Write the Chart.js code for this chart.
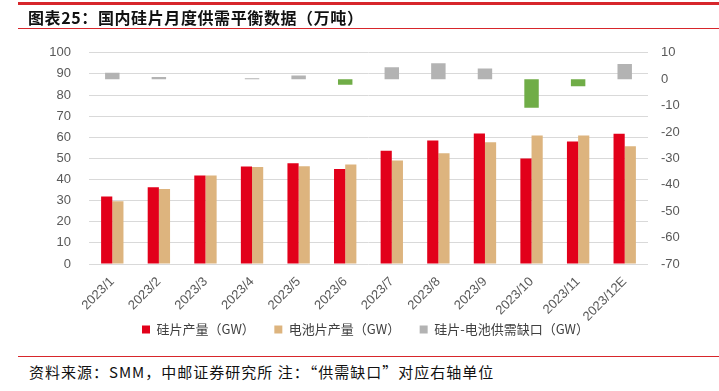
<!DOCTYPE html>
<html>
<head>
<meta charset="utf-8">
<script src="https://cdn.jsdelivr.net/npm/chart.js@4.4.1/dist/chart.umd.min.js"></script>
<style>
  body { margin: 0; background: #fff; }
  #page { position: relative; width: 719px; height: 391px; overflow: hidden; font-family: "Noto Sans CJK SC", sans-serif; }
  .rule { position: absolute; left: 18px; right: 0; background: #D7262B; z-index: 2; }
  #title { position: absolute; left: 28px; top: 5px; font-size: 16px; font-weight: bold; color: #111; line-height: 24px; white-space: nowrap; letter-spacing: 0.6px; z-index: 2; }
  #note { position: absolute; left: 29px; top: 361px; font-size: 15px; color: #111; line-height: 22px; white-space: nowrap; letter-spacing: 1px; z-index: 2; background: #fff; }
  #wrap { position: absolute; left: 0; top: 27px; width: 719px; height: 319px; }
</style>
</head>
<body>
<div id="page">
  <div class="rule" style="top:2px;height:3px"></div>
  <div id="title">图表25：国内硅片月度供需平衡数据（万吨）</div>
  <div class="rule" style="top:28px;height:1px"></div>
  <div id="wrap"><canvas id="chart"></canvas></div>
  <div class="rule" style="top:356px;height:1px"></div>
  <div id="note">资料来源：SMM，中邮证券研究所 注：“供需缺口”对应右轴单位</div>
</div>
<script>
// monthly figures
const months = ['2023/1', '2023/2', '2023/3', '2023/4', '2023/5', '2023/6',
  '2023/7', '2023/8', '2023/9', '2023/10', '2023/11', '2023/12E'];
const waferOutput = [32.0, 36.3, 41.9, 46.2, 47.7, 45.0, 53.6, 58.5, 61.8, 49.9, 58.0, 61.7];
const cellOutput = [29.7, 35.5, 41.9, 45.9, 46.3, 47.1, 49.0, 52.4, 57.7, 60.8, 60.8, 55.8];
const supplyGap = [2.4, 0.8, 0, 0.4, 1.4, -2.1, 4.5, 6.0, 4.1, -10.8, -2.7, 5.8];

const leftTicks = { min: 0, max: 100, step: 10 };
const rightTicks = { min: -70, max: 10, step: 10 };

const RED = '#E2001A';
const TAN = '#DDB47E';
const GREY = '#B3B3B3';
const GREEN = '#70AD47';
const tickFont = { family: '"Liberation Sans", Arial, sans-serif', size: 13 };

new Chart(document.getElementById('chart'), {
  type: 'bar',
  data: {
    labels: months,
    datasets: [
      {
        label: '硅片产量（GW）',
        data: waferOutput,
        backgroundColor: RED,
        categoryPercentage: 0.48,
        barPercentage: 1.0,
        yAxisID: 'y',
        order: 2,
      },
      {
        label: '电池片产量（GW）',
        data: cellOutput,
        backgroundColor: TAN,
        categoryPercentage: 0.48,
        barPercentage: 1.0,
        yAxisID: 'y',
        order: 2,
      },
      {
        // gap bars sit centred on the month, not in the group
        label: '硅片-电池供需缺口（GW）',
        data: supplyGap,
        backgroundColor: supplyGap.map(v => (v < 0 ? GREEN : GREY)),
        grouped: false,
        categoryPercentage: 0.31,
        barPercentage: 1.0,
        yAxisID: 'y2',
        order: 1,
      },
    ],
  },
  options: {
    responsive: true,
    maintainAspectRatio: false,
    animation: false,
    layout: { padding: { top: 0, left: 12, right: 0, bottom: 0 } },
    plugins: {
      tooltip: { enabled: false },
      legend: {
        position: 'bottom',
        labels: {
          color: '#404040',
          boxWidth: 8,
          boxHeight: 8,
          padding: 0,
          font: { family: '"Noto Sans CJK SC", sans-serif', size: 13 },
          // trailing ideographic spaces give the gap between items
          generateLabels: chart => chart.data.datasets.map((ds, i) => ({
            text: i < 2 ? ds.label + '\u3000\u3000' : ds.label,
            fillStyle: [RED, TAN, GREY][i],
            strokeStyle: 'rgba(0,0,0,0)',
            lineWidth: 0,
            fontColor: '#404040',
            datasetIndex: i,
          })),
        },
      },
    },
    scales: {
      x: {
        offset: true,
        grid: { display: false, drawTicks: false },
        border: { display: false },
        ticks: { color: '#595959', font: tickFont, minRotation: 45, maxRotation: 45, padding: 10 },
        afterFit: s => { s.height = 59; },
      },
      y: {
        position: 'left',
        min: leftTicks.min,
        max: leftTicks.max,
        ticks: { stepSize: leftTicks.step, autoSkip: false, color: '#595959', font: tickFont, padding: 18 },
        grid: { color: '#D9D9D9', drawTicks: false },
        border: { display: false },
        afterFit: s => { s.width = 77; },
      },
      y2: {
        position: 'right',
        min: rightTicks.min,
        max: rightTicks.max,
        ticks: { stepSize: rightTicks.step, autoSkip: false, color: '#595959', font: tickFont, padding: 13 },
        grid: { display: false, drawTicks: false },
        border: { display: false },
        afterFit: s => { s.width = 71; },
      },
    },
  },
});
</script>
</body>
</html>
